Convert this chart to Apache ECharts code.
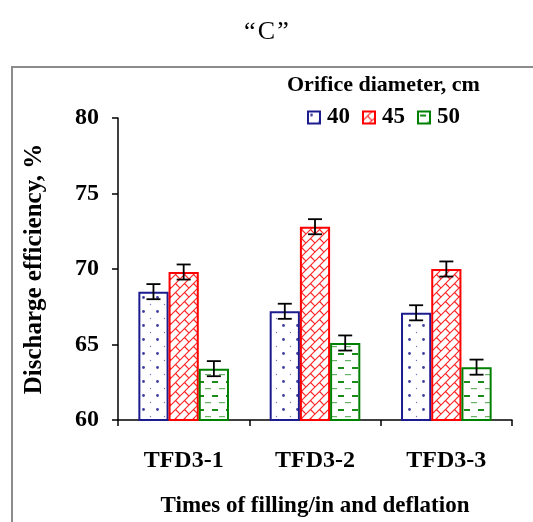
<!DOCTYPE html>
<html>
<head>
<meta charset="utf-8">
<script src="https://cdn.jsdelivr.net/npm/echarts@6/dist/echarts.min.js"></script>
<style>
html,body{margin:0;padding:0;background:#fff;}
#c{width:533px;height:522px;}
</style>
</head>
<body>
<div id="c"></div>
<script>
const categories = ['TFD3-1', 'TFD3-2', 'TFD3-3'];
const seriesNames = ['40', '45', '50'];
const d40 = [68.5, 67.2, 67.1];
const d45 = [69.8, 72.8, 70.0];
const d50 = [63.4, 65.1, 63.5];
const err40 = [0.5, 0.5, 0.5];
const err45 = [0.5, 0.5, 0.5];
const err50 = [0.5, 0.5, 0.5];
const yTicks = [60, 65, 70, 75, 80];

const FONT = 'Liberation Serif';
const colors = ['#1c1c8f', '#ff0000', '#008000'];

function makePattern(type, color) {
  const c = document.createElement('canvas');
  const ctx = c.getContext('2d');
  if (type === 'dots') {
    c.width = 14; c.height = 14;
    ctx.fillStyle = '#fff'; ctx.fillRect(0, 0, 14, 14);
    ctx.fillStyle = color;
    ctx.globalAlpha = 0.85;
    ctx.beginPath(); ctx.arc(3.5, 3.5, 1.4, 0, Math.PI * 2); ctx.fill();
    ctx.globalAlpha = 0.6;
    ctx.beginPath(); ctx.arc(10.5, 10.5, 0.7, 0, Math.PI * 2); ctx.fill();
  } else if (type === 'brick') {
    const T = 9;
    c.width = T; c.height = T;
    ctx.fillStyle = '#fff'; ctx.fillRect(0, 0, T, T);
    ctx.strokeStyle = color; ctx.lineWidth = 1.2; ctx.globalAlpha = 0.85;
    ctx.beginPath();
    ctx.moveTo(-1, T + 1); ctx.lineTo(T + 1, -1);
    ctx.moveTo(-1, 1); ctx.lineTo(1, -1);
    ctx.moveTo(T - 1, T + 1); ctx.lineTo(T + 1, T - 1);
    ctx.moveTo(T / 2, T / 2); ctx.lineTo(T + 0.5, T + 0.5);
    ctx.stroke();
  } else {
    c.width = 14; c.height = 14;
    ctx.fillStyle = '#fff'; ctx.fillRect(0, 0, 14, 14);
    ctx.fillStyle = color;
    ctx.globalAlpha = 0.9;
    ctx.fillRect(2, 3, 6, 2);
    ctx.globalAlpha = 0.6;
    ctx.fillRect(9, 10, 5, 1.2);
    ctx.fillRect(0, 10, 1, 1.2);
  }
  return c;
}

const patterns = [makePattern('dots', colors[0]), makePattern('brick', colors[1]), makePattern('dashes', colors[2])];
const values = [d40, d45, d50];
const errs = [err40, err45, err50];

const chart = echarts.init(document.getElementById('c'), null, {renderer: 'canvas'});

const barSeries = seriesNames.map((n, i) => ({
  name: n,
  type: 'bar',
  barWidth: '23%',
  barGap: '0%',
  data: values[i],
  itemStyle: {
    color: {image: patterns[i], repeat: 'repeat'},
    borderColor: colors[i],
    borderWidth: 2
  },
  z: 2
}));

const errSeries = seriesNames.map((n, i) => ({
  type: 'custom',
  data: categories.map((c, k) => [k, values[i][k], errs[i][k]]),
  z: 5,
  renderItem: function (params, api) {
    const x = api.value(0), v = api.value(1), e = api.value(2);
    const catW = api.size([1, 0])[0];
    const bw = catW * 0.23;
    const cx = api.coord([x, v])[0] + (i - 1) * bw;
    const top = api.coord([x, v + e])[1];
    const bot = api.coord([x, v - e])[1];
    const hw = 7;
    const st = {stroke: '#000', lineWidth: 1.8};
    return {
      type: 'group',
      children: [
        {type: 'line', shape: {x1: cx, y1: top, x2: cx, y2: bot}, style: st},
        {type: 'line', shape: {x1: cx - hw, y1: top, x2: cx + hw, y2: top}, style: st},
        {type: 'line', shape: {x1: cx - hw, y1: bot, x2: cx + hw, y2: bot}, style: st}
      ]
    };
  }
}));

chart.setOption({
  animation: false,
  backgroundColor: '#fff',
  textStyle: {fontFamily: FONT},
  title: {
    text: '\u201C\u200AC\u200A\u201D',
    left: 'center',
    top: 14,
    textStyle: {fontFamily: FONT, fontSize: 26, fontWeight: 'normal', color: '#000'}
  },
  graphic: [
    {type: 'rect', shape: {x: 12, y: 67, width: 540, height: 480}, style: {fill: 'none', stroke: '#8c8c8c', lineWidth: 2}, z: -1},
    {type: 'text', left: 287, top: 74, style: {text: 'Orifice diameter, cm', font: 'bold 22px "Liberation Serif"', fill: '#000'}}
  ],
  legend: {
    data: seriesNames,
    left: 302,
    top: 101,
    icon: 'rect',
    itemWidth: 12,
    itemHeight: 12,
    itemGap: 12,
    textStyle: {fontFamily: FONT, fontSize: 23, fontWeight: 'bold', color: '#000', padding: [0, 0, 0, 2]}
  },
  grid: {left: 118, right: 21, top: 118, bottom: 102, containLabel: false, outerBoundsMode: 'none'},
  xAxis: {
    type: 'category',
    data: categories,
    name: 'Times of filling/in and deflation',
    nameLocation: 'middle',
    nameGap: 75,
    nameTextStyle: {fontFamily: FONT, fontSize: 23, fontWeight: 'bold', color: '#000'},
    axisLine: {lineStyle: {color: '#000', width: 1.5}},
    axisTick: {show: true, length: 6, lineStyle: {color: '#000', width: 1.5}},
    axisLabel: {fontFamily: FONT, fontSize: 24, fontWeight: 'bold', color: '#000', margin: 29}
  },
  yAxis: {
    type: 'value',
    min: yTicks[0],
    max: yTicks[yTicks.length - 1],
    interval: 5,
    name: 'Discharge efficiency, %',
    nameLocation: 'middle',
    nameGap: 71,
    nameTextStyle: {fontFamily: FONT, fontSize: 25, fontWeight: 'bold', color: '#000'},
    splitLine: {show: false},
    axisLine: {show: true, lineStyle: {color: '#000', width: 1.5}},
    axisTick: {show: true, length: 6, lineStyle: {color: '#000', width: 1.5}},
    axisLabel: {fontFamily: FONT, fontSize: 24, fontWeight: 'bold', color: '#000', margin: 19}
  },
  series: barSeries.concat(errSeries)
});
</script>
</body>
</html>
